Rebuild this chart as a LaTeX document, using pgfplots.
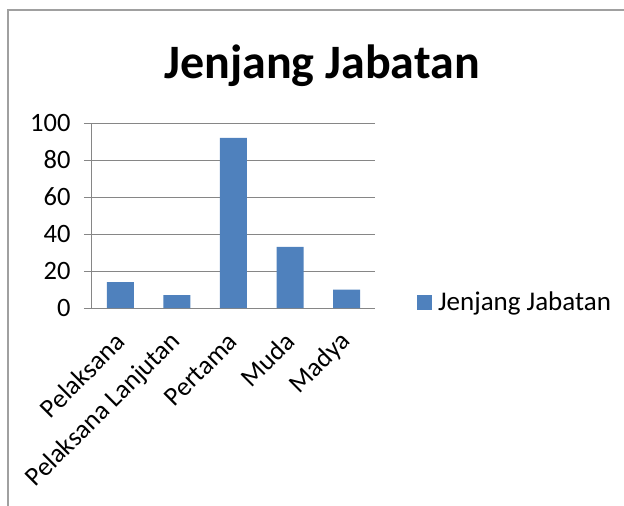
\documentclass[border=0pt]{standalone}
\usepackage{pgfplots}
\pgfplotsset{compat=1.18}
\usepackage{fontspec}
\setmainfont{Carlito}
\definecolor{barblue}{HTML}{4F81BD}
\definecolor{gridgray}{HTML}{868686}
\definecolor{framegray}{HTML}{A0A0A0}
\begin{document}
\begin{tikzpicture}
\useasboundingbox (0,0) rectangle (624pt,-506pt);
\draw[framegray, line width=1.5pt] (8pt,-507pt) -- (8pt,-10pt) -- (625pt,-10pt);
\node[font=\fontsize{48}{52}\selectfont\bfseries] at (322pt,-66pt) {Jenjang Jabatan};
\begin{axis}[
  at={(92pt,-308pt)}, anchor=south west,
  scale only axis, width=283pt, height=185pt,
  xmin=-0.5, xmax=4.5, ymin=0, ymax=100,
  axis x line=bottom, axis y line=left,
  axis line style={gridgray, line width=1pt, -},
  ytick={0,20,...,100},
  ymajorgrids, grid style={gridgray, line width=1pt},
  ytick style={gridgray, line width=1pt},
  tick align=outside, major tick length=8pt,
  xtick={0,1,2,3,4},
  xticklabels={Pelaksana, Pelaksana Lanjutan, Pertama, Muda, Madya},
  xtick style={draw=none},
  extra x ticks={-0.5,0.5,1.5,2.5,3.5,4.5},
  extra x tick labels={},
  extra x tick style={xtick style={gridgray, line width=1pt}, major tick length=6pt, grid=none},
  tick label style={font=\fontsize{26.5}{28}\selectfont},
  /pgf/number format/assume math mode=true,
  xticklabel style={xshift=2pt, yshift=-19pt, rotate=45, anchor=east},
  yticklabel style={xshift=-10pt},
  legend style={at={(1.148,0.032)}, anchor=west, draw=none, fill=none, inner sep=0pt,
    font=\fontsize{27}{30}\selectfont, legend cell align=left},
  ybar, bar width=27pt,
  clip=false,
]
\addplot[fill=barblue, draw=none,
  legend image code/.code={\fill[barblue] (0pt,-7.5pt) rectangle (15pt,7.5pt);\path (19pt,0pt);}]
  coordinates {(0,14) (1,7) (2,92) (3,33) (4,10)};
\addlegendentry{Jenjang Jabatan}
\end{axis}
\end{tikzpicture}
\end{document}
